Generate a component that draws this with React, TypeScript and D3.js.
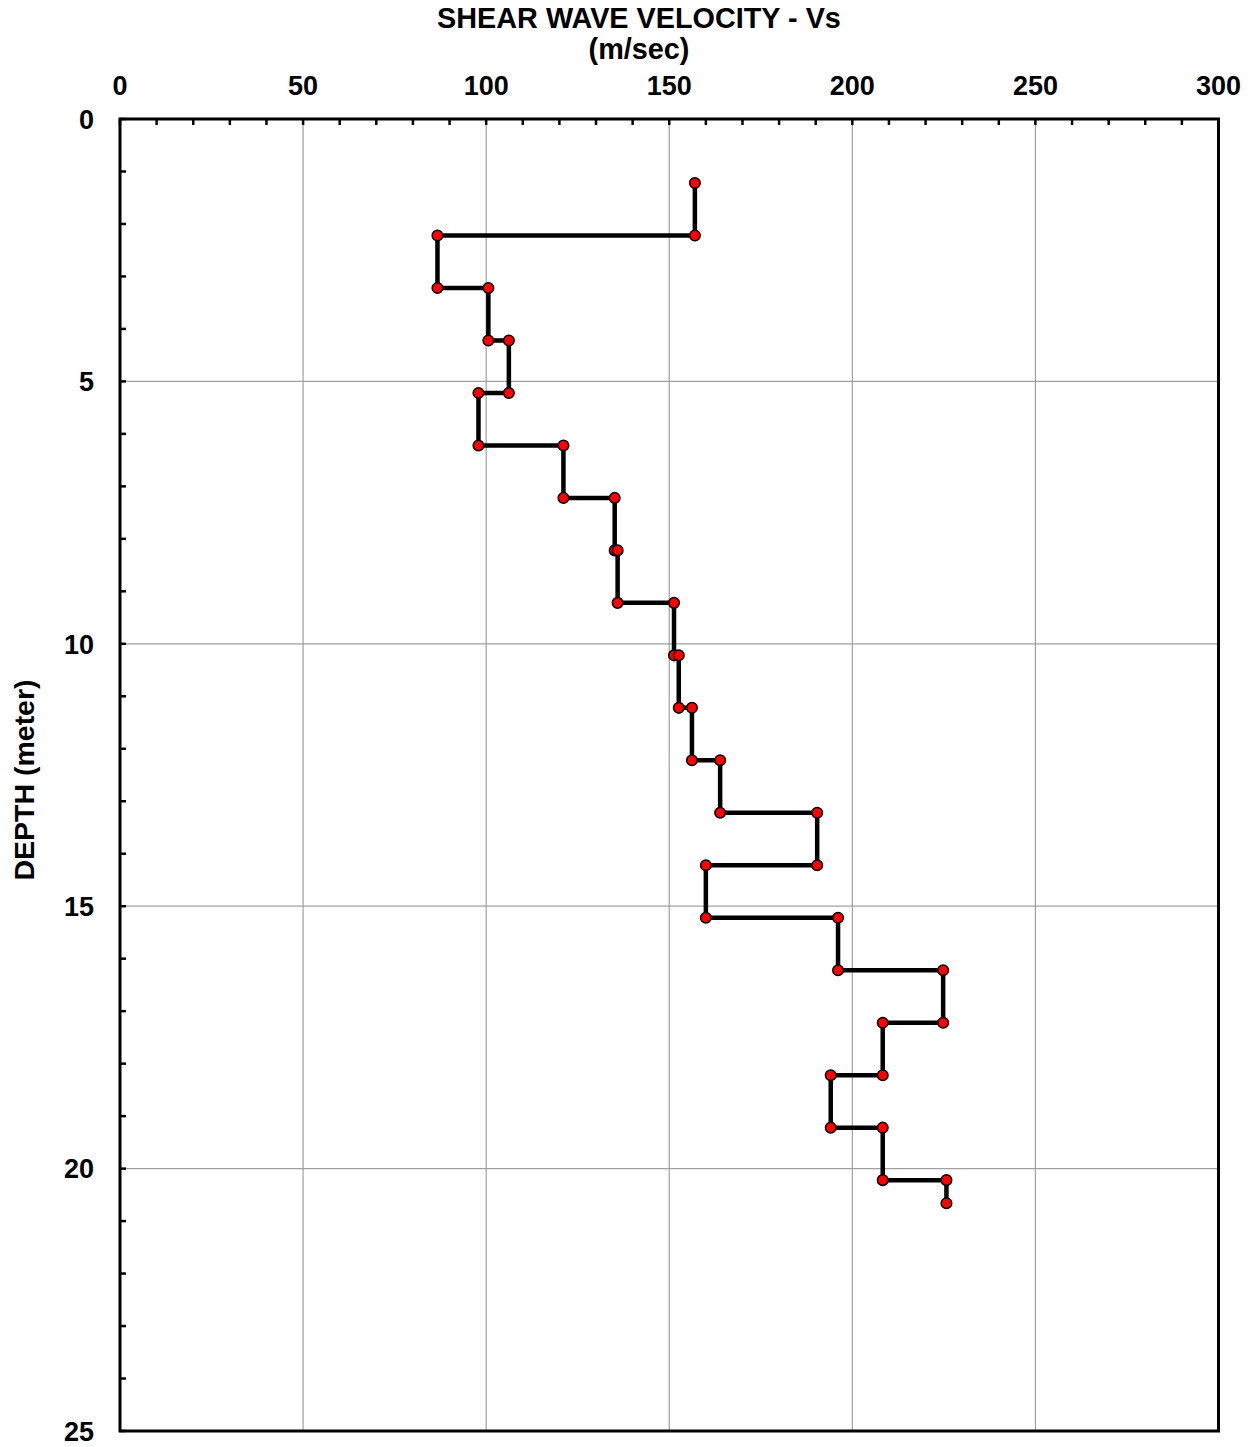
import React from "react";
import * as d3 from "d3";

const layerTop = [1.22, 2.22, 3.22, 4.22, 5.22, 6.22, 7.22, 8.22, 9.22, 10.22, 11.22, 12.22, 13.22, 14.22, 15.22, 16.22, 17.22, 18.22, 19.22, 20.22];
const layerBottom = [2.22, 3.22, 4.22, 5.22, 6.22, 7.22, 8.22, 9.22, 10.22, 11.22, 12.22, 13.22, 14.22, 15.22, 16.22, 17.22, 18.22, 19.22, 20.22, 20.66];
const velocity = [157.0, 86.7, 100.6, 106.2, 97.9, 121.1, 135.1, 135.9, 151.3, 152.6, 156.2, 163.9, 190.4, 160.0, 196.1, 224.8, 208.3, 194.1, 208.3, 225.7];

const xTicks = [0, 50, 100, 150, 200, 250, 300];
const yTicks = [0, 5, 10, 15, 20, 25];

const title1 = "SHEAR WAVE VELOCITY - Vs";
const title2 = "(m/sec)";
const yTitle = "DEPTH (meter)";

export default function App() {
  const W = 1257, H = 1447;
  const left = 120, right = 1218.5, top = 119, bottom = 1431;
  const x = d3.scaleLinear().domain([0, 300]).range([left, right]);
  const y = d3.scaleLinear().domain([0, 25]).range([top, bottom]);

  const pts: [number, number][] = [];
  velocity.forEach((v, i) => {
    pts.push([v, layerTop[i]]);
    pts.push([v, layerBottom[i]]);
  });
  const line = d3.line<[number, number]>().x(d => x(d[0])).y(d => y(d[1]));

  const xMinor = d3.range(0, 301, 10);
  const yMinor = d3.range(0, 26, 1);
  const font = "'Liberation Sans', Arial, sans-serif";

  return (
    <svg width={W} height={H} style={{ position: "absolute", left: 0, top: 0, background: "#fff" }} fontFamily={font}>
      <rect x={0} y={0} width={W} height={H} fill="#fff" />
      {xTicks.slice(1, -1).map(t => (
        <line key={"gx" + t} x1={x(t)} x2={x(t)} y1={top} y2={bottom} stroke="#a0a0a0" strokeWidth={1.2} />
      ))}
      {yTicks.slice(1, -1).map(t => (
        <line key={"gy" + t} x1={left} x2={right} y1={y(t)} y2={y(t)} stroke="#a0a0a0" strokeWidth={1.2} />
      ))}
      {xMinor.map(t => (
        <line key={"tx" + t} x1={x(t)} x2={x(t)} y1={top} y2={top + 6} stroke="#000" strokeWidth={2.5} />
      ))}
      {yMinor.map(t => (
        <line key={"ty" + t} x1={left} x2={left + 6} y1={y(t)} y2={y(t)} stroke="#000" strokeWidth={2.5} />
      ))}
      <rect x={left} y={top} width={right - left} height={bottom - top} fill="none" stroke="#000" strokeWidth={3} />
      {xTicks.map(t => (
        <text key={"lx" + t} x={x(t)} y={95} textAnchor="middle" fontSize={27} fontWeight="bold">{t}</text>
      ))}
      {yTicks.map(t => (
        <text key={"ly" + t} x={94} y={y(t)} dy="0.36em" textAnchor="end" fontSize={27} fontWeight="bold">{t}</text>
      ))}
      <text x={639} y={28} textAnchor="middle" fontSize={28.8} fontWeight="bold">{title1}</text>
      <text x={639} y={59} textAnchor="middle" fontSize={28.8} fontWeight="bold">{title2}</text>
      <text transform={`translate(34,780) rotate(-90)`} textAnchor="middle" fontSize={28.5} fontWeight="bold">{yTitle}</text>
      <path d={line(pts) || ""} fill="none" stroke="#000" strokeWidth={4.5} strokeLinejoin="miter" />
      {pts.map((p, i) => (
        <circle key={"p" + i} cx={x(p[0])} cy={y(p[1])} r={5.3} fill="#ff0000" stroke="#000" strokeWidth={1.5} />
      ))}
    </svg>
  );
}
